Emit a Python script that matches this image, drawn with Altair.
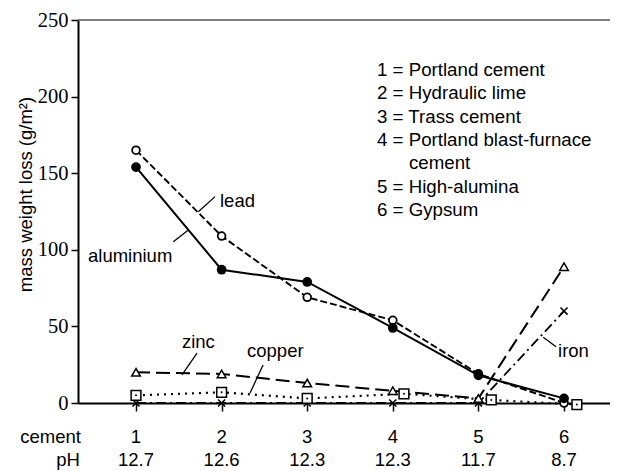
import altair as alt
import pandas as pd

# ---- data ----
cement = [1, 2, 3, 4, 5, 6]
ph = ["12.7", "12.6", "12.3", "12.3", "11.7", "8.7"]
aluminium = [154, 87, 79, 49, 18, 3]
lead = [165, 109, 69, 54, 19, 0]
zinc = [20, 19, 13, 8, 3, 89]
copper = [5, 7, 3, 6, 2, -1]
copper_pos = [1, 2, 3, 4.13, 5.15, 6.15]
iron = [0, 0, 0, 0, 0, 60]
y_ticks = [0, 50, 100, 150, 200, 250]

legend_lines = ["1 = Portland cement", "2 = Hydraulic lime", "3 = Trass cement",
                "4 = Portland blast-furnace", "cement", "5 = High-alumina", "6 = Gypsum"]
legend_indent = [0, 0, 0, 0, 1, 0, 0]

series_labels = ["lead", "aluminium", "zinc", "copper", "iron"]
label_x = [1.981, 0.439, 1.537, 2.297, 5.93]
label_y = [127.9, 92.0, 35.9, 30.0, 30.0]
leader_x = [1.728, 1.436, 1.713, 2.484, 5.757]
leader_y = [124.9, 105.3, 32.6, 24.8, 42.9]
leader_x2 = [1.923, 1.611, 1.537, 2.332, 5.907]
leader_y2 = [134.7, 112.9, 18.3, 6.5, 36.7]

W, H = 532, 383
XDOM = [0.3224, 6.537]
YDOM = [0, 250]
FONT = "Liberation Sans"
TXT = "#000"

xs = alt.Scale(domain=XDOM, nice=False, zero=False)
ys = alt.Scale(domain=YDOM, nice=False, zero=False)

x_axis = alt.Axis(values=cement, labels=False, tickSize=8, tickWidth=1.5,
                  tickColor="black", domainColor="black", domainWidth=2,
                  grid=False, title=None)
y_axis = alt.Axis(values=y_ticks, tickSize=7, tickWidth=1.5, tickColor="black",
                  domainColor="black", domainWidth=2, grid=False,
                  labelFont="Liberation Sans Narrow", labelFontSize=20.5,
                  labelColor=TXT, labelPadding=3,
                  title="mass weight loss (g/m²)", titleFont=FONT,
                  titleFontSize=18.5, titleFontWeight="normal", titleColor=TXT,
                  titleX=-53, titleY=174, titleBaseline="middle", titleAlign="center")


def X(f):
    return alt.X(f, type="quantitative", scale=xs, axis=x_axis)


def Y(f):
    return alt.Y(f, type="quantitative", scale=ys, axis=y_axis)


def series_df(xv, yv):
    return pd.DataFrame({"x": xv, "y": yv})


def line(xv, yv, dash, width):
    kw = dict(color="black", strokeWidth=width)
    if dash:
        kw["strokeDash"] = dash
    return alt.Chart(series_df(xv, yv)).mark_line(**kw).encode(x=X("x"), y=Y("y"))


def pts(xv, yv, **kw):
    return alt.Chart(series_df(xv, yv)).mark_point(**kw).encode(x=X("x"), y=Y("y"))


layers = []
# frame top line
layers.append(alt.Chart(pd.DataFrame({"y": [YDOM[1]]})).mark_rule(
    color="#555", strokeWidth=1.5).encode(y=Y("y")))

layers.append(line(cement, iron, [10, 4, 2, 4], 1.8))
layers.append(line(copper_pos, copper, [2, 5], 2.2))
layers.append(line(cement, zinc, [14, 6], 2))
layers.append(line(cement, lead, [7, 3], 1.9))
layers.append(line(cement, aluminium, None, 2))

xshape = "M-1,-1L1,1M-1,1L1,-1"
layers.append(pts(cement, iron, shape=xshape, size=50, stroke="black",
                  strokeWidth=1.6, filled=False, opacity=1))
layers.append(pts(copper_pos, copper, shape="square", size=95, stroke="black",
                  strokeWidth=1.5, fill="white", filled=True, opacity=1))
layers.append(pts(copper_pos, copper, shape="circle", size=4, color="black",
                  filled=True, opacity=1))
layers.append(pts(cement, zinc, shape="triangle-up", size=75, stroke="black",
                  strokeWidth=1.5, fill="white", filled=True, opacity=1))
layers.append(pts(cement, lead, shape="circle", size=60, stroke="black",
                  strokeWidth=1.8, fill="white", filled=True, opacity=1))
layers.append(pts(cement, aluminium, shape="circle", size=95, color="black",
                  filled=True, opacity=1))

# leader lines
lead_df = pd.DataFrame({"x": leader_x, "y": leader_y, "x2": leader_x2, "y2": leader_y2})
layers.append(alt.Chart(lead_df).mark_rule(color="black", strokeWidth=1.3).encode(
    x=X("x"), y=Y("y"), x2="x2", y2="y2"))

# series labels
lab_df = pd.DataFrame({"x": label_x, "y": label_y, "t": series_labels})
layers.append(alt.Chart(lab_df).mark_text(
    align="left", baseline="alphabetic", font=FONT, fontSize=18.5, color=TXT
).encode(x=X("x"), y=Y("y"), text="t:N"))

# legend block (top right)
leg_x0, leg_indent_x, leg_y0, leg_step = 3.815, 4.189, 213.5, 15.23
leg_df = pd.DataFrame({
    "t": legend_lines,
    "x": [leg_indent_x if ind else leg_x0 for ind in legend_indent],
    "y": [leg_y0 - i * leg_step for i in range(len(legend_lines))],
})
layers.append(alt.Chart(leg_df).mark_text(
    align="left", baseline="alphabetic", font=FONT, fontSize=18.7, color=TXT
).encode(x=X("x"), y=Y("y"), text="t:N"))

# bottom category rows
row_cement_y, row_ph_y = -26.1, -41.1
rows = pd.DataFrame({
    "x": cement + cement,
    "y": [row_cement_y] * len(cement) + [row_ph_y] * len(cement),
    "t": [str(c) for c in cement] + ph,
})
layers.append(alt.Chart(rows).mark_text(
    align="center", baseline="alphabetic", font=FONT, fontSize=18.5, color=TXT
).encode(x=X("x"), y=Y("y"), text="t:N"))

row_titles = pd.DataFrame({"x": [0.357, 0.345], "y": [row_cement_y, row_ph_y],
                           "t": ["cement", "pH"]})
layers.append(alt.Chart(row_titles).mark_text(
    align="right", baseline="alphabetic", font=FONT, fontSize=18.5, color=TXT
).encode(x=X("x"), y=Y("y"), text="t:N"))

chart = alt.layer(*layers).properties(
    width=W, height=H, autosize="none",
    padding={"left": 70, "top": 12, "right": 0, "bottom": 68},
    background="white",
).configure_view(stroke=None)

chart.save("out.html", embed_options={"renderer": "svg", "actions": False})
